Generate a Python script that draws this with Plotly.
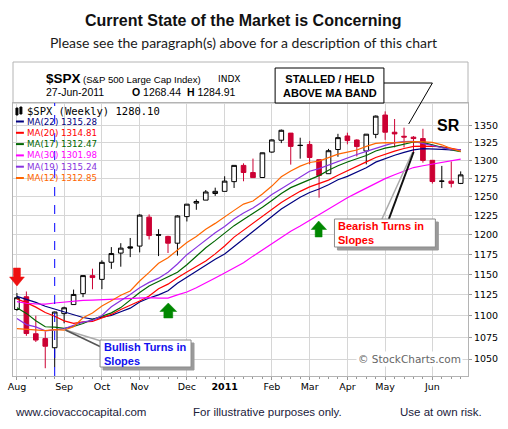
import plotly.graph_objects as go

# weekly candles, S&P 500 (week start dates)
weeks = [
    "2010-08-02", "2010-08-09", "2010-08-16", "2010-08-23", "2010-08-30",
    "2010-09-06", "2010-09-13", "2010-09-20", "2010-09-27",
    "2010-10-04", "2010-10-11", "2010-10-18", "2010-10-25",
    "2010-11-01", "2010-11-08", "2010-11-15", "2010-11-22", "2010-11-29",
    "2010-12-06", "2010-12-13", "2010-12-20", "2010-12-27",
    "2011-01-03", "2011-01-10", "2011-01-17", "2011-01-24", "2011-01-31",
    "2011-02-07", "2011-02-14", "2011-02-21", "2011-02-28",
    "2011-03-07", "2011-03-14", "2011-03-21", "2011-03-28",
    "2011-04-04", "2011-04-11", "2011-04-18", "2011-04-25",
    "2011-05-02", "2011-05-09", "2011-05-16", "2011-05-23", "2011-05-30",
    "2011-06-06", "2011-06-13", "2011-06-20", "2011-06-27",
]
opens = [
    1107.5, 1122.8, 1079.0, 1073.4, 1062.9, 1102.6, 1113.4, 1126.6, 1148.6,
    1144.0, 1165.3, 1176.8, 1184.7, 1185.7, 1223.2, 1200.4, 1198.1, 1189.4,
    1223.9, 1241.8, 1245.8, 1254.7, 1257.6, 1270.8, 1293.2, 1283.3, 1276.5,
    1311.9, 1328.7, 1338.9, 1321.6, 1322.7, 1301.2, 1281.7, 1315.5, 1334.8,
    1329.0, 1313.4, 1337.1, 1365.2, 1340.2, 1334.4, 1333.1, 1331.1, 1300.3,
    1271.3, 1271.5, 1268.4,
]
highs = [
    1127.3, 1129.2, 1100.1, 1081.6, 1105.1, 1110.9, 1131.5, 1148.9, 1157.2,
    1167.7, 1184.4, 1189.4, 1196.1, 1227.1, 1226.8, 1207.4, 1198.9, 1225.6,
    1240.4, 1246.7, 1259.4, 1262.6, 1278.2, 1293.2, 1296.1, 1302.7, 1311.0,
    1330.0, 1344.1, 1338.9, 1332.3, 1327.7, 1301.2, 1316.4, 1337.9, 1339.5,
    1330.0, 1337.5, 1364.6, 1370.6, 1359.4, 1346.8, 1334.6, 1345.2, 1300.4,
    1292.5, 1298.6, 1284.9,
]
lows = [
    1106.0, 1076.6, 1069.5, 1039.7, 1040.9, 1091.2, 1113.4, 1122.3, 1131.9,
    1132.0, 1157.0, 1159.7, 1171.7, 1177.7, 1194.1, 1173.0, 1176.9, 1173.6,
    1217.5, 1232.9, 1245.8, 1251.5, 1257.6, 1262.2, 1271.3, 1275.9, 1276.5,
    1310.9, 1324.6, 1294.3, 1302.6, 1294.7, 1249.1, 1281.7, 1305.3, 1322.9,
    1305.8, 1294.7, 1331.6, 1329.2, 1318.5, 1318.5, 1311.8, 1297.0, 1268.2,
    1262.0, 1262.9, 1267.5,
]
closes = [
    1121.64, 1079.25, 1071.69, 1064.59, 1104.51, 1109.55, 1125.59, 1148.67,
    1146.24, 1165.15, 1176.19, 1183.08, 1183.26, 1225.85, 1199.21, 1199.73,
    1189.40, 1224.71, 1240.40, 1243.91, 1256.77, 1257.64, 1271.50, 1293.24,
    1283.35, 1276.34, 1310.87, 1329.15, 1343.01, 1319.88, 1321.15, 1304.28,
    1279.20, 1313.80, 1332.41, 1328.17, 1319.68, 1337.38, 1363.61, 1340.20,
    1337.77, 1333.27, 1331.10, 1300.16, 1270.98, 1271.50, 1268.45, 1280.10,
]

# moving average overlays as shown on the chart
ma22 = [
    1123.22, 1120.00, 1115.99, 1111.36, 1108.01, 1104.16, 1101.13, 1098.01,
    1096.17, 1098.64, 1100.48, 1104.82, 1109.08, 1116.40, 1121.29, 1125.03,
    1130.15, 1139.34, 1146.72, 1154.86, 1161.86, 1168.96, 1175.77, 1185.49,
    1195.12, 1204.74, 1214.12, 1224.10, 1233.99, 1241.77, 1249.72, 1256.04,
    1260.72, 1266.67, 1273.45, 1278.10, 1283.57, 1289.83, 1297.75, 1302.99,
    1307.42, 1311.48, 1314.86, 1316.80, 1316.77, 1315.78, 1315.11, 1315.28,
]
ma20 = [
    1120.04, 1115.68, 1110.36, 1103.87, 1099.49, 1094.10, 1091.05, 1092.94,
    1093.46, 1097.34, 1101.68, 1107.59, 1112.17, 1117.59, 1123.71, 1132.57,
    1138.14, 1146.13, 1153.02, 1160.13, 1166.89, 1175.81, 1185.80, 1197.23,
    1206.17, 1214.51, 1223.78, 1232.80, 1242.64, 1250.37, 1257.62, 1263.68,
    1268.48, 1272.88, 1279.54, 1285.96, 1292.47, 1298.11, 1304.27, 1309.08,
    1313.13, 1316.91, 1319.89, 1320.24, 1319.62, 1319.38, 1317.26, 1314.81,
]
ma17 = [
    1109.52, 1102.88, 1094.32, 1087.13, 1086.76, 1085.22, 1087.45, 1090.94,
    1095.72, 1100.05, 1103.50, 1109.75, 1119.21, 1127.91, 1135.81, 1141.52,
    1146.68, 1152.75, 1162.22, 1172.36, 1183.66, 1192.67, 1202.19, 1212.06,
    1219.98, 1227.63, 1236.20, 1245.20, 1254.61, 1262.64, 1268.25, 1274.43,
    1279.11, 1286.42, 1292.76, 1297.92, 1302.38, 1307.12, 1313.35, 1317.40,
    1320.01, 1322.95, 1326.17, 1325.54, 1322.12, 1317.91, 1314.89, 1312.47,
]
ma30 = [
    1116.88, 1114.99, 1114.32, 1114.01, 1115.29, 1116.42, 1116.97, 1118.44,
    1118.70, 1119.20, 1119.74, 1120.29, 1120.47, 1121.52, 1121.75, 1121.17,
    1121.26, 1125.05, 1128.54, 1133.75, 1139.33, 1145.75, 1151.75, 1157.61,
    1164.49, 1172.95, 1180.72, 1189.52, 1197.54, 1204.81, 1211.46, 1218.96,
    1225.88, 1234.19, 1241.78, 1249.07, 1255.54, 1261.83, 1269.08, 1274.91,
    1280.30, 1285.30, 1290.23, 1292.71, 1295.10, 1297.49, 1300.13, 1301.98,
]
ma19 = [
    1096.83, 1089.67, 1087.05, 1082.31, 1083.43, 1084.78, 1088.82, 1092.63,
    1094.54, 1100.44, 1110.68, 1117.69, 1125.58, 1133.79, 1140.30, 1145.50,
    1152.85, 1163.05, 1174.77, 1184.06, 1193.88, 1202.68, 1210.87, 1220.67,
    1228.55, 1235.23, 1243.75, 1253.47, 1261.28, 1269.33, 1277.42, 1285.08,
    1288.71, 1293.61, 1299.51, 1304.27, 1308.40, 1312.79, 1317.49, 1321.28,
    1325.37, 1326.86, 1326.99, 1324.14, 1320.88, 1317.57, 1315.18, 1315.24,
]
ma12 = [
    1084.93, 1084.23, 1082.75, 1082.73, 1083.80, 1083.14, 1087.21, 1097.72,
    1103.41, 1111.76, 1117.89, 1124.68, 1129.81, 1142.03, 1152.66, 1163.92,
    1170.99, 1180.59, 1190.16, 1198.09, 1207.31, 1215.01, 1222.96, 1232.14,
    1240.48, 1244.68, 1253.99, 1264.77, 1277.57, 1285.51, 1292.23, 1297.27,
    1299.13, 1303.81, 1308.89, 1311.80, 1314.83, 1319.92, 1324.31, 1325.23,
    1324.79, 1325.91, 1326.74, 1326.40, 1325.71, 1322.19, 1316.86, 1312.85,
]

month_ticks = ["2010-08-02", "2010-09-06", "2010-10-04", "2010-11-01",
               "2010-12-06", "2011-01-03", "2011-02-07", "2011-03-07",
               "2011-04-04", "2011-05-02", "2011-06-06"]
month_labels = ["Aug", "Sep", "Oct", "Nov", "Dec", "<b>2011</b>", "Feb",
                "Mar", "Apr", "May", "Jun"]
price_ticks = [1050, 1075, 1100, 1125, 1150, 1175, 1200, 1225, 1250,
               1275, 1300, 1325, 1350]

ma_series = [
    ("MA(22)", ma22, "#000080"),
    ("MA(20)", ma20, "#ff0000"),
    ("MA(17)", ma17, "#006600"),
    ("MA(30)", ma30, "#ff00ff"),
    ("MA(19)", ma19, "#8833e0"),
    ("MA(12)", ma12, "#ff6600"),
]

RED = "#cc0033"

# page geometry (pixels) -> paper coords
W, H = 508, 429
L, R, T, B = 8, 468, 103, 376


def px(x):
    return (x - L) / (R - L)


def py(y):
    return (B - y) / (B - T)


# StockCharts colouring: red when close is below the prior close
red_idx, blk_idx = [], []
for i, c in enumerate(closes):
    if i > 0 and c < closes[i - 1]:
        red_idx.append(i)
    else:
        blk_idx.append(i)


def pick(arr, idx):
    return [arr[i] for i in idx]


fig = go.Figure()

for name, vals, col in ma_series:
    fig.add_trace(go.Scatter(
        x=weeks, y=vals, mode="lines", name=name,
        line=dict(color=col, width=1.2), hoverinfo="skip",
    ))

fig.add_trace(go.Candlestick(
    x=pick(weeks, blk_idx), open=pick(opens, blk_idx), high=pick(highs, blk_idx),
    low=pick(lows, blk_idx), close=pick(closes, blk_idx),
    increasing=dict(line=dict(color="black", width=1), fillcolor="white"),
    decreasing=dict(line=dict(color="black", width=1), fillcolor="black"),
    whiskerwidth=0, name="$SPX",
))
fig.add_trace(go.Candlestick(
    x=pick(weeks, red_idx), open=pick(opens, red_idx), high=pick(highs, red_idx),
    low=pick(lows, red_idx), close=pick(closes, red_idx),
    increasing=dict(line=dict(color=RED, width=1), fillcolor="white"),
    decreasing=dict(line=dict(color=RED, width=1), fillcolor=RED),
    whiskerwidth=0, name="$SPX down",
))

shapes = []
annotations = []


def text(x, y, s, size=11, color="#000", family="Liberation Sans",
         xanchor="left", yanchor="middle", **kw):
    annotations.append(dict(
        x=px(x), y=py(y), xref="paper", yref="paper", text=s, showarrow=False,
        xanchor=xanchor, yanchor=yanchor, align=kw.pop("align", "left"),
        font=dict(size=size, color=color, family=family), **kw))


def rect(x0, y0, x1, y1, line="#888", fill="white", width=1):
    shapes.append(dict(type="rect", xref="paper", yref="paper",
                       x0=px(x0), x1=px(x1), y0=py(y1), y1=py(y0),
                       line=dict(color=line, width=width), fillcolor=fill,
                       layer="above"))


def seg(x0, y0, x1, y1, color="#000", width=1):
    shapes.append(dict(type="line", xref="paper", yref="paper",
                       x0=px(x0), y0=py(y0), x1=px(x1), y1=py(y1),
                       line=dict(color=color, width=width), layer="above"))


def poly(pts, color):
    d = "M " + " L ".join(f"{px(a):.5f},{py(b):.5f}" for a, b in pts) + " Z"
    shapes.append(dict(type="path", xref="paper", yref="paper", path=d,
                       fillcolor=color, line=dict(color=color, width=0.5),
                       layer="above"))


# header box above the price panel
shapes.append(dict(type="rect", xref="paper", yref="paper", x0=0, x1=1,
                   y0=1, y1=py(62), line=dict(color="#b4b4b4", width=1),
                   fillcolor="rgba(0,0,0,0)", layer="below"))

# vertical dashed marker
shapes.append(dict(type="line", xref="x", yref="paper", x0="2010-08-30",
                   x1="2010-08-30", y0=0, y1=1,
                   line=dict(color="#0000ff", width=1, dash="dash"),
                   layer="above"))

# titles
text(241, 21, "<b>Current State of the Market is Concerning</b>", size=16,
     color="#111", xanchor="center")
text(241, 43, "Please see the paragraph(s) above for a description of this chart",
     size=14, color="#1a1a1a", family="Lato", xanchor="center")

# chart header
text(40, 78.5, "<b>$SPX</b>", size=13.5, borderpad=0)
text(78, 79, "(S&P 500 Large Cap Index)", size=9.6, borderpad=0)
text(214, 79, "INDX", size=9, family="DejaVu Sans", borderpad=0)
text(40, 92, "27-Jun-2011", size=10.5, borderpad=0)
text(127, 92, "<b>O</b> 1268.44  <b>H</b> 1284.91", size=10.5, borderpad=0)

# legend rows
text(20, 111, "$SPX (Weekly) 1280.10", size=10.5, family="DejaVu Sans Mono")
shapes.append(dict(type="rect", xref="paper", yref="paper", x0=px(11),
                   x1=px(13), y0=py(115), y1=py(108),
                   line=dict(color="#000", width=1), fillcolor="#000"))
shapes.append(dict(type="rect", xref="paper", yref="paper", x0=px(15),
                   x1=px(17), y0=py(114), y1=py(107),
                   line=dict(color="#000", width=1), fillcolor="#000"))
for k, (name, vals, col) in enumerate(ma_series):
    yy = 121.5 + 11.3 * k
    seg(11, yy, 19, yy, color=col, width=2)
    text(20, yy, f"{name} {vals[-1]:.2f}", size=8.7, color=col,
         family="DejaVu Sans")

# arrows
poly([(8.5, 268), (15.5, 268), (15.5, 277), (19.5, 277), (12, 286),
      (4.5, 277), (8.5, 277)], "#ee1111")
poly([(160.5, 318), (169.5, 318), (169.5, 311.5), (173.5, 311.5), (165, 303),
      (156.5, 311.5), (160.5, 311.5)], "#008800")
poly([(313.5, 237), (320.5, 237), (320.5, 229.5), (325, 229.5), (317, 221),
      (309.5, 229.5), (313.5, 229.5)], "#008800")

# STALLED / HELD callout
seg(383, 83, 432, 83)
seg(432, 83, 408, 124)
rect(273, 68, 383, 103, line="#000", fill="white")
text(328, 85.5, "<b>STALLED / HELD<br>ABOVE MA BAND</b>", size=11,
     xanchor="center", align="center")
text(448, 125, "<b>SR</b>", size=16, xanchor="center")

# bullish callout
seg(61, 330, 97, 341, color="#aaaaaa", width=1.5)
seg(61, 330, 97, 347, color="#555555", width=1.5)
rect(99, 343, 191, 370, line="#9a9a9a", fill="#9a9a9a")
rect(96, 340, 188, 367, line="#8a8a8a", fill="white")
text(97.5, 353.5, "<b>Bullish Turns in<br>Slopes</b>", size=11, color="#1010ee")

# bearish callout
seg(412, 152, 381, 219, color="#aaaaaa", width=1.5)
seg(413, 152, 388, 219, color="#111111", width=2)
rect(336, 222, 438, 250, line="#9a9a9a", fill="#9a9a9a")
rect(333, 219, 435, 247, line="#8a8a8a", fill="white")
text(335, 233, "<b>Bearish Turns in<br>Slopes</b>", size=11, color="#ff0000")

# watermark
text(463, 359, "© StockCharts.com", size=10.5, color="#666",
     family="DejaVu Sans", xanchor="right", bgcolor="white")

# footer
text(8, 412, "www.ciovaccocapital.com", size=11.5, color="#20203a")
text(188, 412, "For illustrative purposes only.", size=11.5, color="#20203a")
text(397, 412, "Use at own risk.", size=11.5, color="#20203a")

fig.update_layout(
    width=W, height=H,
    margin=dict(l=L, r=W - R, t=T, b=H - B),
    paper_bgcolor="white", plot_bgcolor="white",
    showlegend=False,
    boxgap=0.3,
    shapes=shapes, annotations=annotations,
    font=dict(family="DejaVu Sans", size=10, color="#000"),
    xaxis=dict(
        type="date", range=["2010-07-30 02:00", "2011-07-02 10:00"],
        tickvals=month_ticks, ticktext=month_labels, tickangle=0,
        showgrid=True, gridcolor="#d6d6d6", gridwidth=1,
        showline=True, linecolor="#b4b4b4", mirror=True,
        ticks="outside", ticklen=3, tickcolor="#999",
        minor=dict(ticks="outside", ticklen=2, tickcolor="#999",
                   tick0="2010-08-02", dtick=7 * 86400000, showgrid=False),
        tickfont=dict(size=9.5, family="DejaVu Sans"),
        ticklabelstandoff=-1,
        rangeslider=dict(visible=False), fixedrange=True,
    ),
    yaxis=dict(
        type="log", side="right",
        range=[3.01328, 3.14082],
        tickvals=price_ticks, ticktext=[str(v) for v in price_ticks],
        showgrid=True, gridcolor="#d6d6d6", gridwidth=1,
        showline=True, linecolor="#b4b4b4", mirror=True,
        ticks="outside", ticklen=3, tickcolor="#999",
        tickfont=dict(size=9.5, family="DejaVu Sans"),
        zeroline=False, fixedrange=True,
    ),
)

# drop the browser's default body margin so the figure sits at the page corner
fig.write_html("out.html", config={"displayModeBar": False},
               post_script="document.body.style.margin='0';")
